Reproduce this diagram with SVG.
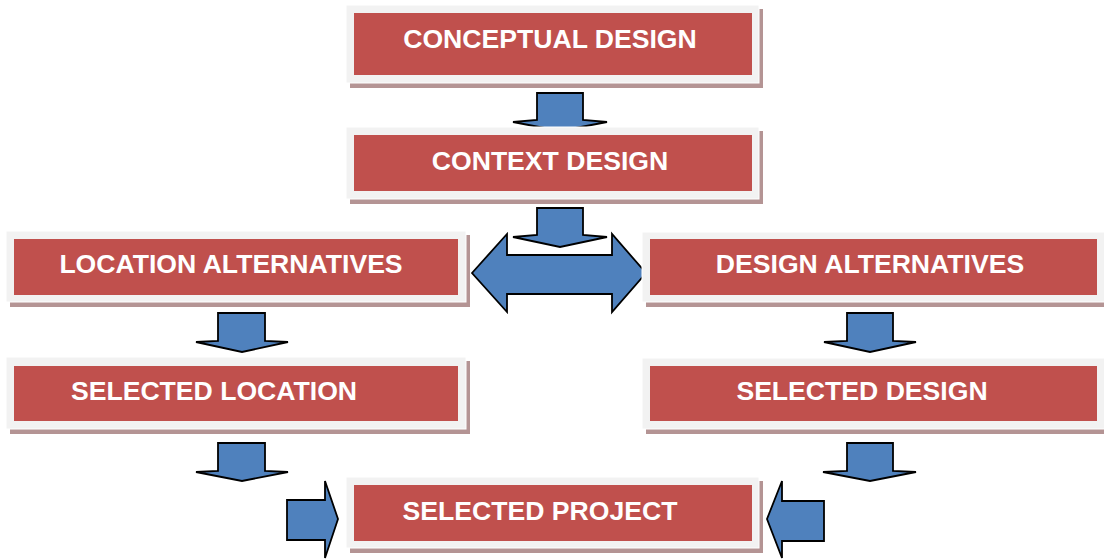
<svg xmlns="http://www.w3.org/2000/svg" width="1104" height="559" viewBox="0 0 1104 559">
<style>
.sh{fill:#b49494}
.fr{fill:#f2f2f2;stroke:#ffffff;stroke-width:1}
.bx{fill:#c0504d}
.tx{font-family:"Liberation Sans",Arial,sans-serif;font-weight:bold;font-size:26.6px;fill:#ffffff;text-anchor:middle}
.ar{fill:#4f81bd;stroke:#000000;stroke-width:1.8;stroke-linejoin:miter}
</style>
<rect width="1104" height="559" fill="#ffffff"/>
<g id="connectors">
<path class="ar" d="M537,93 H583 V120 L607,122 L560,131 L513,122 L537,120 Z"/>
<path class="ar" d="M537,208 H583 V235 L607,237 L560,247 L513,237 L537,235 Z"/>
<path class="ar" d="M472,273 L507,234 V255 H612 V234 L646,273 L612,312 V294 H507 V312 Z"/>
<path class="ar" d="M218,313 H265 V341 L288,342 L242,352 L196,342 L218,341 Z"/>
<path class="ar" d="M847,313 H893 V341 L916,342 L870,352 L824,342 L847,341 Z"/>
<path class="ar" d="M218,443 H265 V471 L288,472 L242,481 L196,472 L218,471 Z"/>
<path class="ar" d="M847,443 H893 V471 L916,472 L870,481 L823,472 L847,471 Z"/>
<path class="ar" d="M287,500 H325 V481 L338,519 L325,558 V540 H287 Z"/>
<path class="ar" d="M824,501 H782 V481 L767,519 L782,558 V541 H824 Z"/>
</g>
<g id="conceptual">
<rect class="sh" x="350" y="9" width="413" height="79"/>
<rect class="fr" x="346" y="5" width="413" height="78"/>
<rect class="bx" x="354" y="13" width="398" height="62"/>
<text class="tx" x="550" y="48">CONCEPTUAL DESIGN</text>
</g>
<g id="context">
<rect class="sh" x="350" y="131" width="413" height="73"/>
<rect class="fr" x="346" y="127" width="413" height="72"/>
<rect class="bx" x="354" y="135" width="398" height="56"/>
<text class="tx" x="550" y="170">CONTEXT DESIGN</text>
</g>
<g id="location-alternatives">
<rect class="sh" x="10" y="235" width="460" height="72"/>
<rect class="fr" x="6" y="231" width="460" height="71"/>
<rect class="bx" x="14" y="239" width="444" height="56"/>
<text class="tx" x="231" y="273">LOCATION ALTERNATIVES</text>
</g>
<g id="design-alternatives">
<rect class="sh" x="646" y="236" width="470" height="71"/>
<rect class="fr" x="642" y="232" width="470" height="70"/>
<rect class="bx" x="650" y="239" width="447" height="56"/>
<text class="tx" x="870" y="273">DESIGN ALTERNATIVES</text>
</g>
<g id="selected-location">
<rect class="sh" x="10" y="361" width="460" height="73"/>
<rect class="fr" x="6" y="357" width="460" height="72"/>
<rect class="bx" x="14" y="366" width="444" height="55"/>
<text class="tx" x="214" y="400">SELECTED LOCATION</text>
</g>
<g id="selected-design">
<rect class="sh" x="646" y="362" width="470" height="72"/>
<rect class="fr" x="642" y="358" width="470" height="71"/>
<rect class="bx" x="650" y="366" width="447" height="55"/>
<text class="tx" x="862" y="400">SELECTED DESIGN</text>
</g>
<g id="selected-project">
<rect class="sh" x="350" y="481" width="413" height="72"/>
<rect class="fr" x="346" y="477" width="413" height="71"/>
<rect class="bx" x="354" y="485" width="398" height="56"/>
<text class="tx" x="540" y="520">SELECTED PROJECT</text>
</g>
</svg>
